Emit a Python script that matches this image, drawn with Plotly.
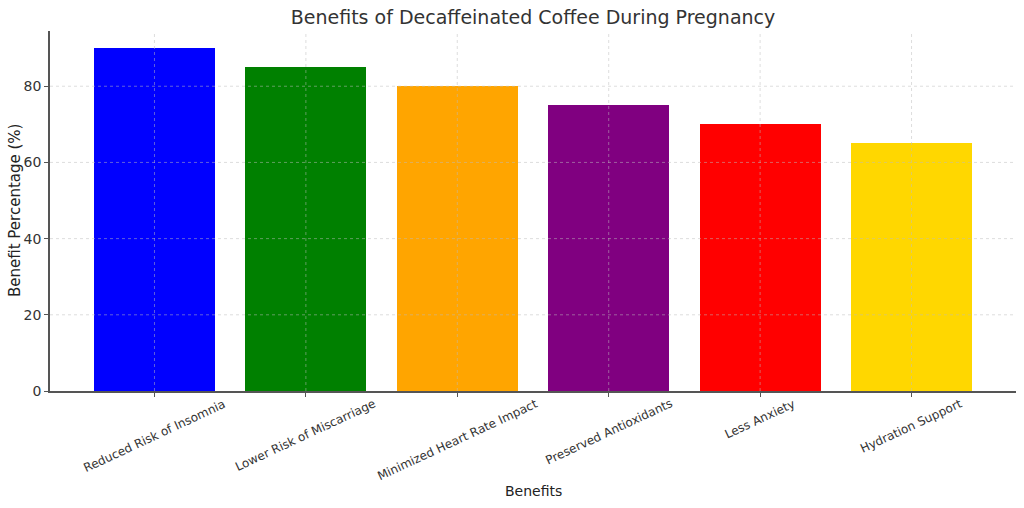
import plotly.graph_objects as go

categories = ["Reduced Risk of Insomnia", "Lower Risk of Miscarriage", "Minimized Heart Rate Impact",
              "Preserved Antioxidants", "Less Anxiety", "Hydration Support"]
values = [90, 85, 80, 75, 70, 65]
colors = ["#0000FF", "#008000", "#FFA500", "#800080", "#FF0000", "#FFD700"]
y_ticks = [0, 20, 40, 60, 80]

FONT = "DejaVu Sans"
x_idx = list(range(len(categories)))

fig = go.Figure()
fig.add_trace(go.Bar(x=x_idx, y=values, marker=dict(color=colors, line=dict(width=0)),
                     width=0.8, hoverinfo="skip"))

grid_color = "rgba(190,190,190,0.5)"
shapes = []
for t in y_ticks[1:]:
    shapes.append(dict(type="line", xref="paper", yref="y", x0=0, x1=1, y0=t, y1=t,
                       line=dict(color=grid_color, width=1, dash="dot"), layer="above"))
for i in x_idx:
    shapes.append(dict(type="line", xref="x", yref="paper", x0=i, x1=i, y0=0, y1=1,
                       line=dict(color=grid_color, width=1, dash="dot"), layer="above"))

annotations = []
for i, c in enumerate(categories):
    annotations.append(dict(x=i, y=-0.008, xref="x", yref="paper", text=c, showarrow=False,
                            textangle=-25, xanchor="center", yanchor="top",
                            font=dict(family=FONT, size=12, color="#333333")))
annotations.append(dict(x=0.5, y=(391 - 491) / 360.0, xref="paper", yref="paper", text="Benefits",
                        showarrow=False, xanchor="center", yanchor="middle",
                        font=dict(family=FONT, size=14, color="#222222")))
annotations.append(dict(x=(15 - 50) / 966.0, y=0.5, xref="paper", yref="paper",
                        text="Benefit Percentage (%)", showarrow=False, textangle=-90,
                        xanchor="center", yanchor="middle",
                        font=dict(family=FONT, size=15, color="#222222")))

fig.update_layout(
    width=1024, height=508,
    margin=dict(l=50, r=8, t=31, b=117, autoexpand=False),
    paper_bgcolor="white", plot_bgcolor="white",
    title=dict(text="Benefits of Decaffeinated Coffee During Pregnancy", x=533 / 1024, xanchor="center",
               y=1 - 17 / 508, yanchor="middle", font=dict(family=FONT, size=19, color="#333333")),
    xaxis=dict(range=[-0.69, 5.69], tickvals=x_idx, ticktext=[""] * len(x_idx), showgrid=False,
               zeroline=False, showline=True, linecolor="#555555", linewidth=1.5,
               ticks="outside", ticklen=4, tickcolor="#555555", automargin=False),
    yaxis=dict(range=[0, 94.5], tickvals=y_ticks, showgrid=False, zeroline=False,
               showline=True, linecolor="#555555", linewidth=1.5, ticks="outside", ticklen=4,
               tickcolor="#555555", tickfont=dict(family=FONT, size=14, color="#333333"),
               automargin=False),
    shapes=shapes, annotations=annotations, showlegend=False, bargap=0,
)

fig.write_html("out.html", config={"displayModeBar": False},
               post_script="document.body.style.margin='0';document.body.style.padding='0';")
